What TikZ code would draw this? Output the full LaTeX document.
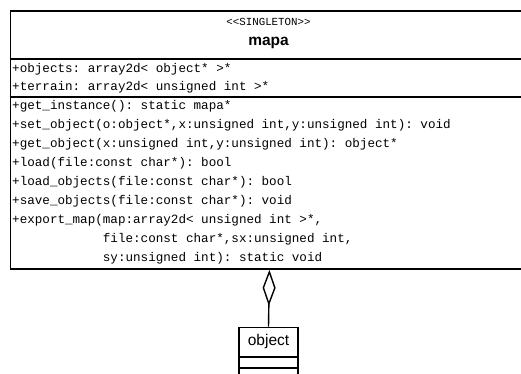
\documentclass[tikz,border=0pt]{standalone}
\usepackage{fontspec}
\setmainfont{Liberation Sans}
\newfontfamily\membfont[Ligatures=TeXOff]{Liberation Mono}
\usetikzlibrary{arrows.meta}

\tikzset{
  classbox/.style={draw=black, line width=1.8pt, fill=white, inner sep=0pt},
  sepline/.style={line width=1.8pt},
  member/.style={anchor=west, inner sep=0pt, font=\membfont\frenchspacing\fontsize{12.6}{14}\selectfont},
  stereo/.style={inner sep=0pt, font=\membfont\fontsize{10.8}{12}\selectfont},
  cname/.style={inner sep=0pt, font=\fontsize{15.5}{17}\selectfont},
  aggr/.style={line width=1.4pt, {Diamond[open, length=36pt, width=13pt, line width=1.4pt]}-},
}

\begin{document}
\begin{tikzpicture}[x=1pt,y=-1pt]
			%%%%% bounds %%%%%
			\useasboundingbox (0,0) rectangle (521,373);
			
			%%%%% class mapa %%%%%
			\node[classbox, anchor=north west, minimum width=518pt, minimum height=258pt] (mapa) at (9.5,10) {};
			\node[stereo] (stereotype) at (268.5,22) {<<SINGLETON>>};
			\node[cname, font=\bfseries\fontsize{15.5}{17}\selectfont] (mapaname) at (268.5,42.5) {mapa};
			\draw[sepline] (9.5,59) -- (527.5,59);
			
			\node[member] (objects) at (12,69.5) {+objects: array2d< object* >*};
			\node[member] (terrain) at (12,87.5) {+terrain: array2d< unsigned int >*};
			\draw[sepline] (9.5,97) -- (527.5,97);
			
			\node[member] (getinstance) at (12,106.5) {+get\_instance(): static mapa*};
			\node[member] (setobject) at (12,125.5) {+set\_object(o:object*,x:unsigned int,y:unsigned int): void};
			\node[member] (getobject) at (12,144.5) {+get\_object(x:unsigned int,y:unsigned int): object*};
			\node[member] (load) at (12,163.5) {+load(file:const char*): bool};
			\node[member] (loadobjects) at (12,182.5) {+load\_objects(file:const char*): bool};
			\node[member] (saveobjects) at (12,201.5) {+save\_objects(file:const char*): void};
			\node[member] (exportmap) at (12,220.5) {+export\_map(map:array2d< unsigned int >*,};
			\node[member] (exportfile) at (12,239.5) {\phantom{+export\_map(}file:const char*,sx:unsigned int,};
			\node[member] (exportsy) at (12,258.5) {\phantom{+export\_map(}sy:unsigned int): static void};
			
			%%%%% class object %%%%%
			\node[classbox, anchor=north, minimum width=59pt, minimum height=62pt] (object) at (268.5,326.5) {};
			\node[cname] (objectname) at (268.5,341.5) {object};
			\draw[sepline] (object.west |- 0,357) -- (object.east |- 0,357);
			\draw[sepline] (object.west |- 0,368) -- (object.east |- 0,368);
			
			%%%%% aggregation %%%%%
			\draw[aggr] (mapa.south) -- (object.north);
		\end{tikzpicture}
\end{document}
